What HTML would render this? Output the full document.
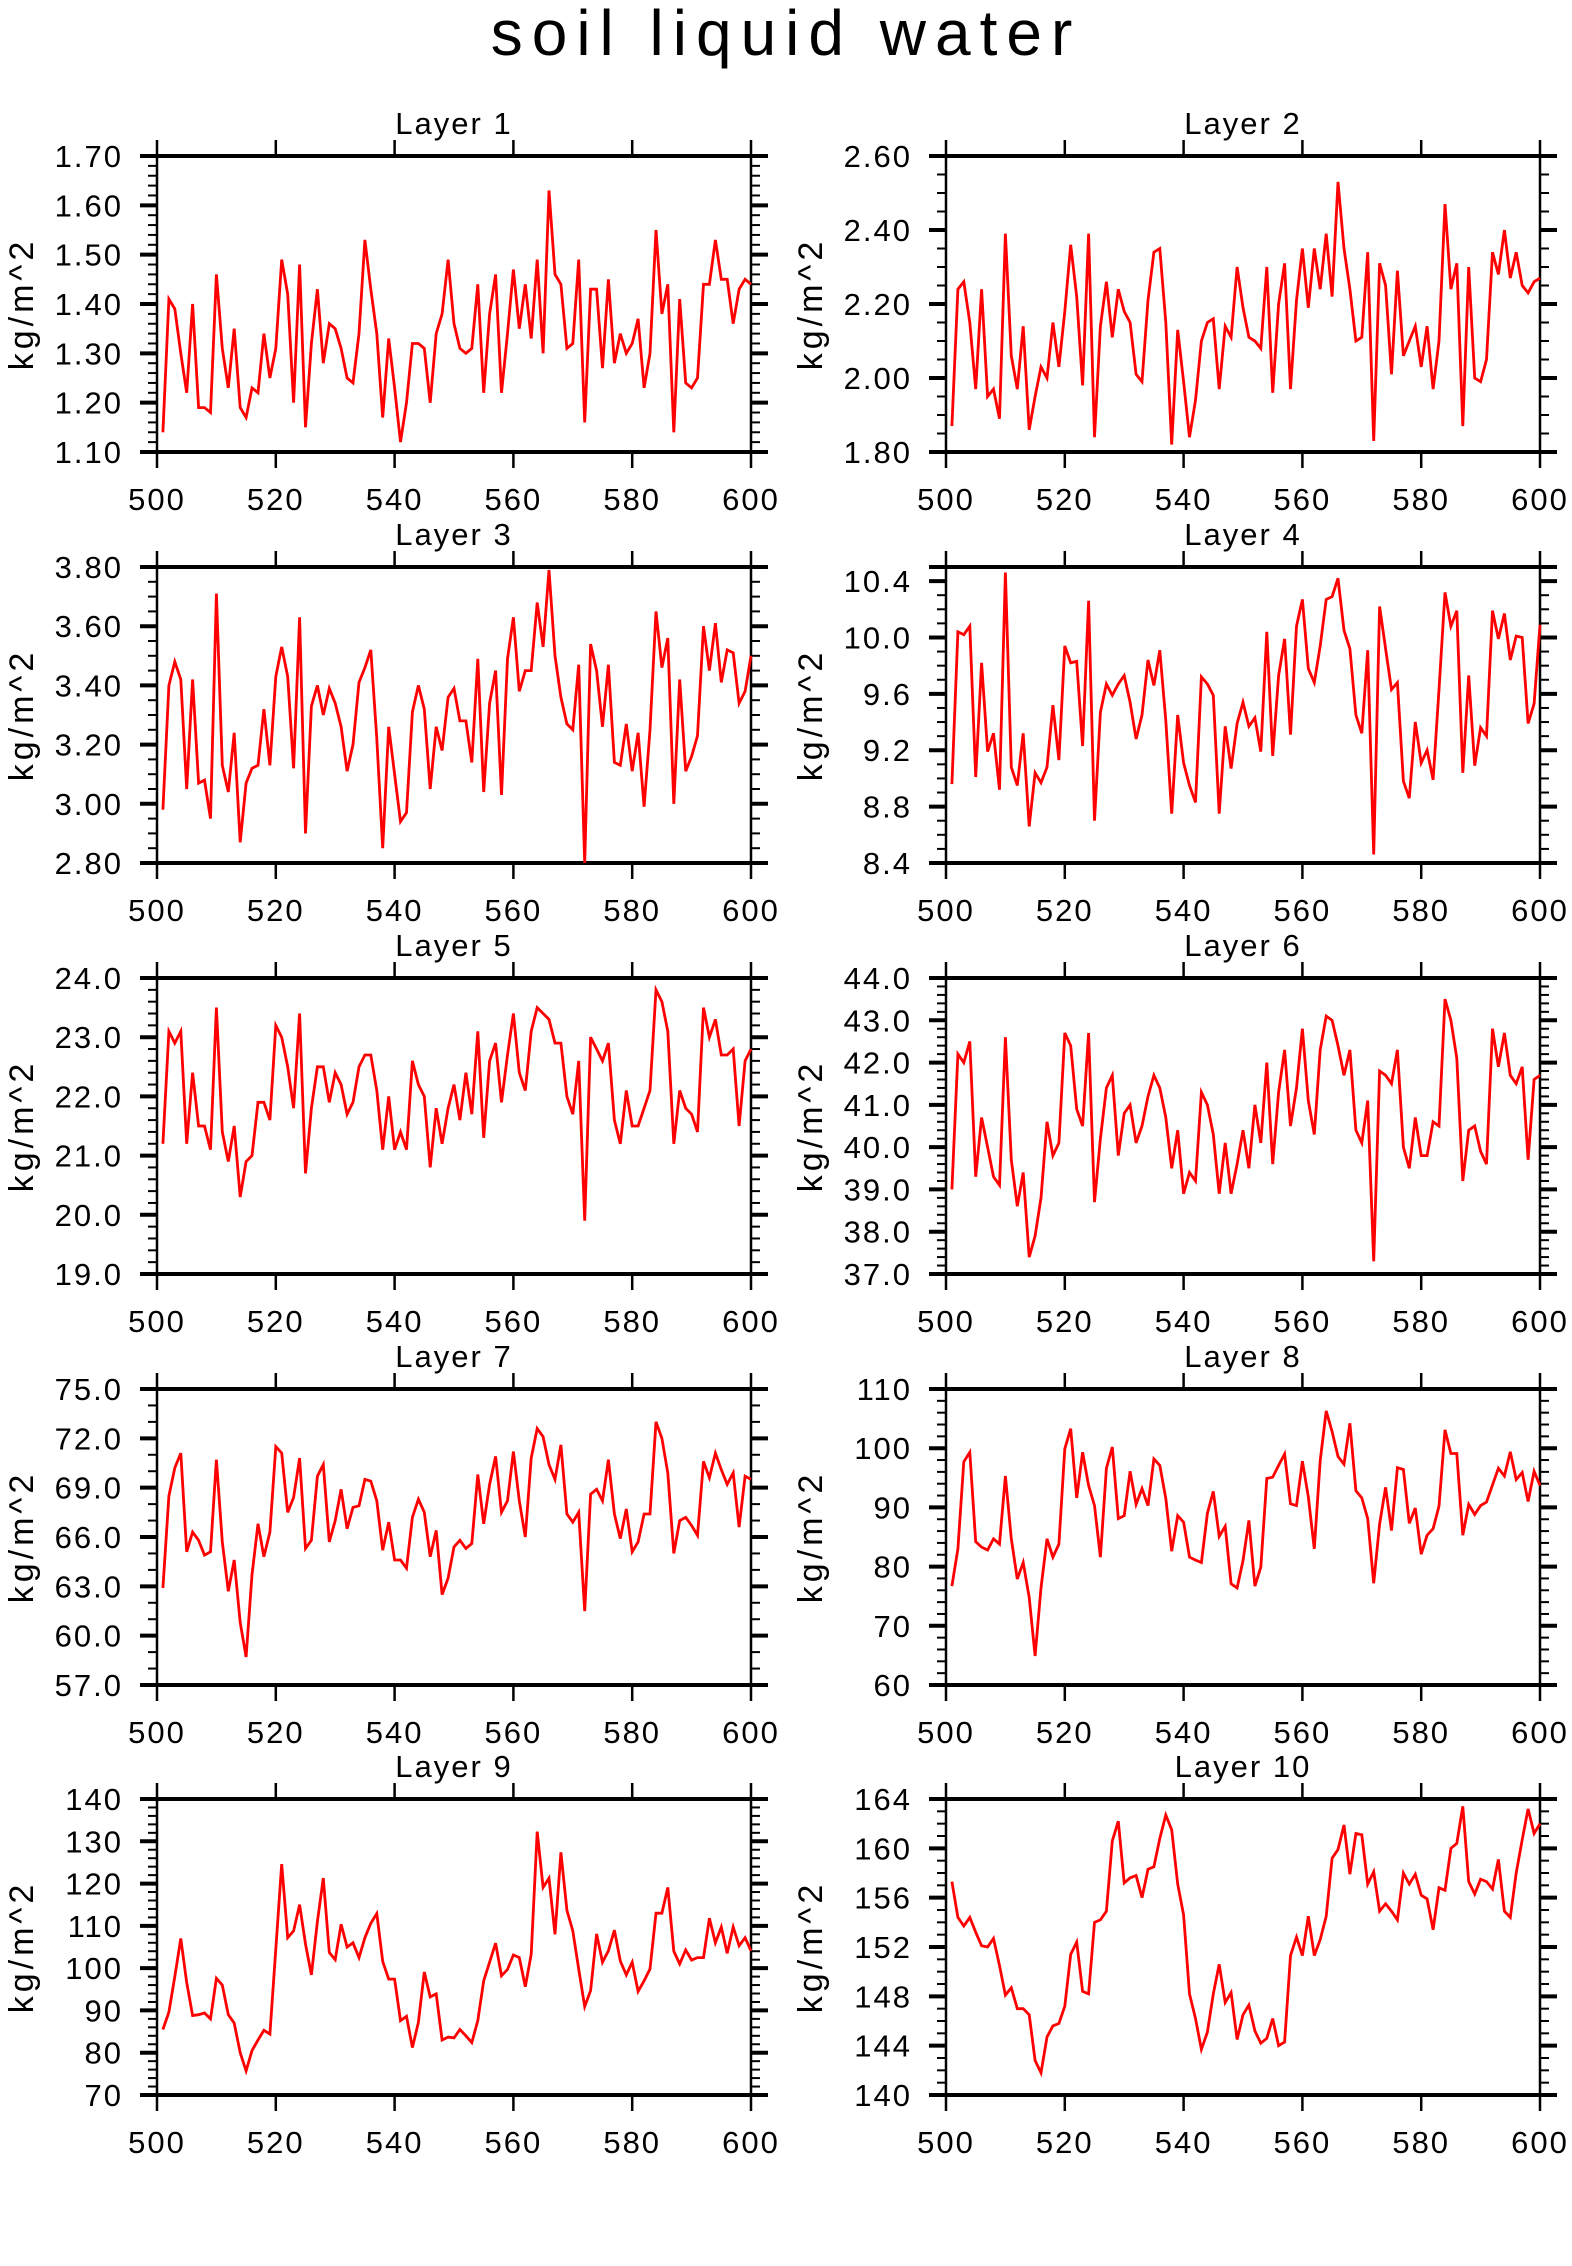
<!DOCTYPE html>
<html><head><meta charset="utf-8"><title>soil liquid water</title>
<style>
html,body{margin:0;padding:0;background:#fff;overflow:hidden;}
svg{display:block;}
text{font-family:"Liberation Sans",sans-serif;fill:#000;}
</style></head>
<body>
<svg id="chart" width="1572" height="2266" viewBox="0 0 1572 2266" xmlns="http://www.w3.org/2000/svg">
<rect x="0" y="0" width="1572" height="2266" fill="#fff"/>
<text x="786" y="55" font-size="64" text-anchor="middle" letter-spacing="9" fill="#111">soil liquid water</text>
</svg>
<script>
const years = [];
for (let y = 501; y <= 600; y++) years.push(y);
const xTicks = [500, 520, 540, 560, 580, 600];

const layer1 = [1.14,1.41,1.39,1.30,1.22,1.40,1.19,1.19,1.18,1.46,1.31,1.23,1.35,1.19,1.17,1.23,1.22,1.34,1.25,1.31,1.49,1.42,1.20,1.48,1.15,1.32,1.43,1.28,1.36,1.35,1.31,1.25,1.24,1.34,1.53,1.43,1.34,1.17,1.33,1.23,1.12,1.20,1.32,1.32,1.31,1.20,1.34,1.38,1.49,1.36,1.31,1.30,1.31,1.44,1.22,1.38,1.46,1.22,1.34,1.47,1.35,1.44,1.33,1.49,1.30,1.63,1.46,1.44,1.31,1.32,1.49,1.16,1.43,1.43,1.27,1.45,1.28,1.34,1.30,1.32,1.37,1.23,1.30,1.55,1.38,1.44,1.14,1.41,1.24,1.23,1.25,1.44,1.44,1.53,1.45,1.45,1.36,1.43,1.45,1.44];
const layer2 = [1.87,2.24,2.26,2.15,1.97,2.24,1.95,1.97,1.89,2.39,2.06,1.97,2.14,1.86,1.95,2.03,2.00,2.15,2.03,2.18,2.36,2.22,1.98,2.39,1.84,2.14,2.26,2.11,2.24,2.18,2.15,2.01,1.99,2.21,2.34,2.35,2.15,1.82,2.13,1.99,1.84,1.94,2.10,2.15,2.16,1.97,2.14,2.11,2.30,2.19,2.11,2.10,2.08,2.30,1.96,2.20,2.31,1.97,2.21,2.35,2.19,2.35,2.24,2.39,2.22,2.53,2.35,2.24,2.10,2.11,2.34,1.83,2.31,2.25,2.01,2.29,2.06,2.10,2.14,2.03,2.14,1.97,2.10,2.47,2.24,2.31,1.87,2.30,2.00,1.99,2.05,2.34,2.28,2.40,2.27,2.34,2.25,2.23,2.26,2.27];
const layer3 = [2.98,3.40,3.48,3.42,3.05,3.42,3.07,3.08,2.95,3.71,3.13,3.04,3.24,2.87,3.07,3.12,3.13,3.32,3.13,3.43,3.53,3.43,3.12,3.63,2.90,3.33,3.40,3.30,3.39,3.34,3.26,3.11,3.20,3.41,3.46,3.52,3.22,2.85,3.26,3.10,2.94,2.97,3.31,3.40,3.32,3.05,3.26,3.18,3.36,3.39,3.28,3.28,3.14,3.49,3.04,3.34,3.45,3.03,3.49,3.63,3.38,3.45,3.45,3.68,3.53,3.79,3.50,3.36,3.27,3.25,3.47,2.80,3.54,3.45,3.26,3.47,3.14,3.13,3.27,3.11,3.24,2.99,3.25,3.65,3.46,3.56,3.00,3.42,3.11,3.16,3.23,3.60,3.45,3.61,3.41,3.52,3.51,3.34,3.38,3.50];
const layer4 = [8.96,10.04,10.02,10.08,9.01,9.82,9.19,9.32,8.92,10.46,9.08,8.95,9.32,8.66,9.04,8.97,9.08,9.52,9.13,9.94,9.82,9.83,9.23,10.26,8.70,9.47,9.67,9.59,9.67,9.73,9.54,9.28,9.45,9.84,9.66,9.91,9.41,8.75,9.45,9.11,8.95,8.83,9.72,9.67,9.59,8.75,9.37,9.07,9.39,9.54,9.37,9.43,9.19,10.04,9.16,9.73,9.99,9.31,10.08,10.27,9.78,9.68,9.94,10.27,10.29,10.42,10.05,9.92,9.45,9.32,9.91,8.46,10.22,9.92,9.63,9.68,8.98,8.86,9.40,9.11,9.20,8.99,9.63,10.32,10.08,10.19,9.04,9.73,9.09,9.36,9.30,10.19,9.99,10.17,9.84,10.01,10.00,9.39,9.53,10.09];
const layer5 = [21.2,23.1,22.9,23.1,21.2,22.4,21.5,21.5,21.1,23.5,21.4,20.9,21.5,20.3,20.9,21.0,21.9,21.9,21.6,23.2,23.0,22.5,21.8,23.4,20.7,21.8,22.5,22.5,21.9,22.4,22.2,21.7,21.9,22.5,22.7,22.7,22.1,21.1,22.0,21.1,21.4,21.1,22.6,22.2,22.0,20.8,21.8,21.2,21.8,22.2,21.6,22.4,21.7,23.1,21.3,22.6,22.9,21.9,22.7,23.4,22.4,22.1,23.1,23.5,23.4,23.3,22.9,22.9,22.0,21.7,22.6,19.9,23.0,22.8,22.6,22.9,21.6,21.2,22.1,21.5,21.5,21.8,22.1,23.8,23.6,23.1,21.2,22.1,21.8,21.7,21.4,23.5,23.0,23.3,22.7,22.7,22.8,21.5,22.6,22.8];
const layer6 = [39.0,42.2,42.0,42.5,39.3,40.7,40.0,39.3,39.1,42.6,39.7,38.6,39.4,37.4,37.9,38.8,40.6,39.8,40.1,42.7,42.4,40.9,40.5,42.7,38.7,40.2,41.4,41.7,39.8,40.8,41.0,40.1,40.5,41.2,41.7,41.4,40.7,39.5,40.4,38.9,39.4,39.2,41.3,41.0,40.3,38.9,40.1,38.9,39.6,40.4,39.5,41.0,40.1,42.0,39.6,41.3,42.3,40.5,41.4,42.8,41.1,40.3,42.3,43.1,43.0,42.4,41.7,42.3,40.4,40.1,41.1,37.3,41.8,41.7,41.5,42.3,40.0,39.5,40.7,39.8,39.8,40.6,40.5,43.5,43.0,42.1,39.2,40.4,40.5,39.9,39.6,42.8,41.9,42.7,41.7,41.5,41.9,39.7,41.6,41.7];
const layer7 = [62.9,68.5,70.2,71.1,65.1,66.3,65.8,64.9,65.1,70.7,65.7,62.7,64.6,60.8,58.7,63.7,66.8,64.8,66.3,71.5,71.1,67.5,68.4,70.8,65.3,65.8,69.7,70.4,65.7,67.0,68.9,66.5,67.8,67.9,69.5,69.4,68.2,65.2,66.9,64.6,64.6,64.1,67.2,68.3,67.5,64.8,66.4,62.5,63.5,65.4,65.8,65.3,65.6,69.8,66.8,69.2,70.9,67.5,68.2,71.2,68.2,66.0,70.8,72.6,72.1,70.4,69.5,71.6,67.4,66.9,67.5,61.5,68.6,68.9,68.2,70.7,67.4,65.9,67.7,65.1,65.7,67.4,67.4,73.0,72.0,69.9,65.0,67.0,67.2,66.7,66.1,70.6,69.6,71.1,70.1,69.2,69.9,66.6,69.7,69.5];
const layer8 = [76.7,83.0,97.7,99.3,84.2,83.3,82.8,84.7,83.8,95.3,84.7,77.9,80.7,74.8,64.9,76.4,84.7,81.6,83.8,99.9,103.3,91.6,99.3,93.7,90.3,81.6,96.6,100.2,88.1,88.6,96.1,90.5,93.2,90.3,98.2,97.1,91.5,82.6,88.6,87.5,81.6,81.1,80.7,89.0,92.7,85.1,86.8,77.1,76.4,81.0,87.8,76.7,79.9,94.9,95.1,97.1,99.0,90.6,90.3,97.8,91.8,83.0,97.9,106.3,102.8,98.6,97.3,104.2,92.8,91.6,88.1,77.2,87.2,93.4,86.1,96.7,96.4,87.3,89.9,82.1,85.3,86.4,90.2,103.1,99.1,99.1,85.3,90.5,88.8,90.3,90.9,93.8,96.6,95.3,99.4,94.7,95.9,91.0,96.1,93.7];
const layer9 = [85.5,89.6,98,107,96.6,88.8,89,89.4,88,97.6,96,89,87,80,75.7,80.5,83,85.3,84.4,104.5,124.6,107.2,108.8,115,105.7,98.4,111,121.3,103.7,102,110.4,105,106,102.5,107.2,110.6,112.9,101.6,97.4,97.4,87.6,88.6,81.2,87.2,99.1,93.2,93.9,83,83.7,83.5,85.5,84,82.4,87.6,97,101.4,105.9,98.2,99.7,103.1,102.5,95.6,103.3,132.3,119.1,121.3,108,127.4,113.7,108.8,99.8,90.9,94.7,108.1,101.4,104.1,109,101.7,98.4,101.4,94.5,97,99.8,113,113,119.1,104,101,104.3,101.9,102.5,102.5,111.8,106,109.7,103.5,109.7,105.3,107.2,104.1];
const layer10 = [157.3,154.4,153.7,154.4,153.2,152.1,152.0,152.7,150.5,148.1,148.7,147.0,147.0,146.5,142.8,141.8,144.7,145.6,145.8,147.2,151.4,152.4,148.4,148.2,154.0,154.2,154.9,160.6,162.2,157.2,157.6,157.8,156.0,158.3,158.5,160.8,162.7,161.5,157.1,154.6,148.2,146.2,143.7,145.1,148.2,150.6,147.5,148.3,144.5,146.5,147.3,145.2,144.2,144.6,146.2,144.0,144.3,151.3,152.8,151.3,154.5,151.3,152.6,154.5,159.2,159.9,161.9,157.9,161.2,161.1,157.1,158.1,154.9,155.5,154.9,154.2,158.0,157.1,157.9,156.2,155.9,153.4,156.8,156.6,160.0,160.4,163.4,157.3,156.3,157.5,157.3,156.7,159.1,154.9,154.4,158.0,160.7,163.2,161.2,162.0];

const yTicks1 = [1.10,1.20,1.30,1.40,1.50,1.60,1.70];
const yTicks2 = [1.80,2.00,2.20,2.40,2.60];
const yTicks3 = [2.80,3.00,3.20,3.40,3.60,3.80];
const yTicks4 = [8.4,8.8,9.2,9.6,10.0,10.4];
const yTicks5 = [19.0,20.0,21.0,22.0,23.0,24.0];
const yTicks6 = [37.0,38.0,39.0,40.0,41.0,42.0,43.0,44.0];
const yTicks7 = [57.0,60.0,63.0,66.0,69.0,72.0,75.0];
const yTicks8 = [60,70,80,90,100,110];
const yTicks9 = [70,80,90,100,110,120,130,140];
const yTicks10 = [140,144,148,152,156,160,164];

// layout/axis config (not data)
const panels = [
  {name:'Layer 1', data:layer1, ticks:yTicks1, min:1.1, max:1.7, minor:0.02, dec:2},
  {name:'Layer 2', data:layer2, ticks:yTicks2, min:1.8, max:2.6, minor:0.05, dec:2},
  {name:'Layer 3', data:layer3, ticks:yTicks3, min:2.8, max:3.8, minor:0.05, dec:2},
  {name:'Layer 4', data:layer4, ticks:yTicks4, min:8.4, max:10.5, minor:0.1, dec:1},
  {name:'Layer 5', data:layer5, ticks:yTicks5, min:19, max:24, minor:0.2, dec:1},
  {name:'Layer 6', data:layer6, ticks:yTicks6, min:37, max:44, minor:0.2, dec:1},
  {name:'Layer 7', data:layer7, ticks:yTicks7, min:57, max:75, minor:1, dec:1},
  {name:'Layer 8', data:layer8, ticks:yTicks8, min:60, max:110, minor:2, dec:0},
  {name:'Layer 9', data:layer9, ticks:yTicks9, min:70, max:140, minor:2, dec:0},
  {name:'Layer 10', data:layer10, ticks:yTicks10, min:140, max:164, minor:1, dec:0}
];
const colLeft = [157, 946];
const rowTop = [156, 567, 978, 1389, 1799];
const PW = 594, PH = 296;

const svg = document.getElementById('chart');
const NS = 'http://www.w3.org/2000/svg';
function mk(tag, attrs, parent) {
  const e = document.createElementNS(NS, tag);
  for (const k in attrs) e.setAttribute(k, attrs[k]);
  parent.appendChild(e);
  return e;
}

panels.forEach((p, i) => {
  const L = colLeft[i % 2], T = rowTop[Math.floor(i / 2)];
  const xs = v => L + (v - 500) / 100 * PW;
  const ys = v => T + PH - (v - p.min) / (p.max - p.min) * PH;
  const slug = 'layer-' + (i + 1);
  const g = mk('g', {}, svg);
  
  

  const title = mk('text', {x: L + PW / 2, y: T - 22, 'font-size': 31, 'text-anchor': 'middle', 'letter-spacing': 2}, g);
  title.textContent = p.name;
  
  

  const yl = mk('text', {x: 0, y: 0, 'font-size': 34, 'text-anchor': 'middle', 'letter-spacing': 4,
    transform: 'translate(' + (L - 124) + ',' + (T + PH / 2) + ') rotate(-90)'}, g);
  yl.textContent = 'kg/m^2';
  
  

  const fr = mk('g', {stroke: '#000', fill: 'none'}, g);
  
  
  mk('line', {x1: L - 17, x2: L + PW + 17, y1: T, y2: T, 'stroke-width': 4}, fr);
  mk('line', {x1: L - 17, x2: L + PW + 17, y1: T + PH, y2: T + PH, 'stroke-width': 4}, fr);
  mk('line', {x1: L, x2: L, y1: T, y2: T + PH, 'stroke-width': 2.5}, fr);
  mk('line', {x1: L + PW, x2: L + PW, y1: T, y2: T + PH, 'stroke-width': 2.5}, fr);

  xTicks.forEach(t => {
    const x = xs(t);
    mk('line', {x1: x, x2: x, y1: T + PH, y2: T + PH + 16, 'stroke-width': 2.5}, fr);
    mk('line', {x1: x, x2: x, y1: T, y2: T - 16, 'stroke-width': 2.5}, fr);
    const tl = mk('text', {x: x, y: T + PH + 58, 'font-size': 31, 'text-anchor': 'middle', 'letter-spacing': 2}, g);
    tl.textContent = String(t);
    
    
  });

  const nMinor = Math.round((p.max - p.min) / p.minor);
  for (let k = 0; k <= nMinor; k++) {
    const y = ys(p.min + k * p.minor);
    mk('line', {x1: L, x2: L - 9, y1: y, y2: y, 'stroke-width': 2}, fr);
    mk('line', {x1: L + PW, x2: L + PW + 9, y1: y, y2: y, 'stroke-width': 2}, fr);
  }
  p.ticks.forEach(t => {
    const y = ys(t);
    mk('line', {x1: L, x2: L - 17, y1: y, y2: y, 'stroke-width': 4}, fr);
    mk('line', {x1: L + PW, x2: L + PW + 17, y1: y, y2: y, 'stroke-width': 4}, fr);
    const tl = mk('text', {x: L - 34, y: y + 11, 'font-size': 31, 'text-anchor': 'end', 'letter-spacing': 2}, g);
    tl.textContent = t.toFixed(p.dec);
    
    
  });

  const pts = p.data.map((v, j) => xs(years[j]).toFixed(1) + ',' + ys(v).toFixed(1)).join(' ');
  const line = mk('polyline', {points: pts, fill: 'none', stroke: '#ff0000', 'stroke-width': 2.8, 'stroke-linejoin': 'miter'}, g);
  
  
});
</script>
</body></html>
